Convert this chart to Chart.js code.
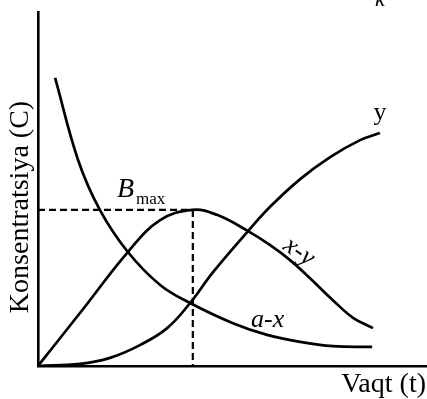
<!DOCTYPE html>
<html>
<head>
<meta charset="utf-8">
<script src="https://cdn.jsdelivr.net/npm/chart.js@4/dist/chart.umd.min.js"></script>
<style>
  html, body { margin: 0; padding: 0; background: #fff; }
  #wrap { width: 427px; height: 399px; }
</style>
</head>
<body>
<div id="wrap"><canvas id="c" width="427" height="399"></canvas></div>
<script>
// Consecutive reaction A -> B -> C: concentration vs time (arbitrary units)
const tAX = [0.44, 1.03, 1.59, 2.31, 3.14, 3.91, 5.01, 5.89, 6.74, 7.58, 8.59];
const cAX = [8.14, 5.82, 4.41, 3.22, 2.29, 1.78, 1.21, 0.88, 0.68, 0.56, 0.54];

const tXY = [0, 1.16, 2.31, 3.14, 3.98, 4.60, 5.40, 5.96, 6.48, 7.04, 7.58, 8.10, 8.61];
const cXY = [0, 1.61, 3.22, 4.12, 4.41, 4.27, 3.81, 3.42, 2.99, 2.43, 1.86, 1.36, 1.07];

const tY = [0, 1.08, 1.85, 2.62, 3.32, 3.91, 4.50, 5.40, 5.96, 6.74, 7.51, 8.28, 8.79];
const cY = [0, 0.06, 0.23, 0.59, 1.07, 1.78, 2.65, 3.81, 4.49, 5.28, 5.90, 6.38, 6.58];

const curveLabels = ['a-x', 'x-y', 'y'];
const axisTitles = ['Konsentratsiya (C)', 'Vaqt (t)'];

const pts = (ts, cs) => ts.map((t, i) => ({ x: t, y: cs[i] }));

// B_max: the peak of the intermediate (x-y) curve
const iMax = cXY.indexOf(Math.max(...cXY));
const bMax = { x: tXY[iMax], y: cXY[iMax] };

const curve = (label, data) => ({
  label, data,
  borderColor: '#000', borderWidth: 2.7,
  pointRadius: 0, fill: false,
  tension: 0.4
});
const dashed = (data) => ({
  label: '', data,
  borderColor: '#000', borderWidth: 2.2,
  borderDash: [7, 4], pointRadius: 0, fill: false, tension: 0
});

// Free-standing text labels drawn on top of the plot
const labelPlugin = {
  id: 'labels',
  afterDraw(chart) {
    const ctx = chart.ctx;
    const serif = '"Liberation Serif", "Times New Roman", serif';
    ctx.save();
    ctx.fillStyle = '#000';

    // y-axis title (rotated)
    ctx.save();
    ctx.translate(21, 207);
    ctx.rotate(-Math.PI / 2);
    ctx.font = '28px ' + serif;
    ctx.textAlign = 'center';
    ctx.textBaseline = 'middle';
    ctx.fillText(axisTitles[0], 0, 0);
    ctx.restore();

    // x-axis title
    ctx.font = '28px ' + serif;
    ctx.textAlign = 'right';
    ctx.textBaseline = 'alphabetic';
    ctx.fillText(axisTitles[1], 426, 392);

    // curve names
    ctx.textAlign = 'center';
    ctx.font = '26px ' + serif;
    ctx.fillText(curveLabels[2], 380, 120);

    ctx.font = 'italic 26px ' + serif;
    ctx.textAlign = 'left';
    ctx.fillText(curveLabels[0], 251, 327);

    ctx.save();
    ctx.translate(299, 252);
    ctx.rotate(35 * Math.PI / 180);
    ctx.textAlign = 'center';
    ctx.textBaseline = 'middle';
    ctx.fillText(curveLabels[1], 0, 0);
    ctx.restore();

    // B_max
    ctx.textAlign = 'left';
    ctx.font = 'italic 28px ' + serif;
    ctx.fillText('B', 117, 197);
    ctx.font = '17px ' + serif;
    ctx.fillText('max', 136, 204);

    // rate constant mark at the top edge
    ctx.font = 'italic 22px ' + serif;
    ctx.textAlign = 'center';
    ctx.fillText('k', 380, 6);

    ctx.restore();
  }
};

new Chart(document.getElementById('c'), {
  type: 'line',
  data: {
    datasets: [
      curve(curveLabels[0], pts(tAX, cAX)),
      curve(curveLabels[1], pts(tXY, cXY)),
      curve(curveLabels[2], pts(tY, cY)),
      dashed([{ x: 0, y: bMax.y }, { x: bMax.x, y: bMax.y }]),
      dashed([{ x: bMax.x, y: bMax.y }, { x: bMax.x, y: 0 }])
    ]
  },
  options: {
    responsive: false,
    animation: false,
    devicePixelRatio: 1,
    layout: { padding: { left: 38, right: 0, top: 12, bottom: 33 } },
    plugins: { legend: { display: false }, tooltip: { enabled: false } },
    scales: {
      x: {
        type: 'linear', min: 0, max: 10,
        ticks: { display: false },
        grid: { display: false, drawTicks: false },
        border: { display: true, color: '#000', width: 2.4 }
      },
      y: {
        type: 'linear', min: 0, max: 10,
        ticks: { display: false },
        grid: { display: false, drawTicks: false },
        border: { display: true, color: '#000', width: 2.6 }
      }
    }
  },
  plugins: [labelPlugin]
});
</script>
</body>
</html>
